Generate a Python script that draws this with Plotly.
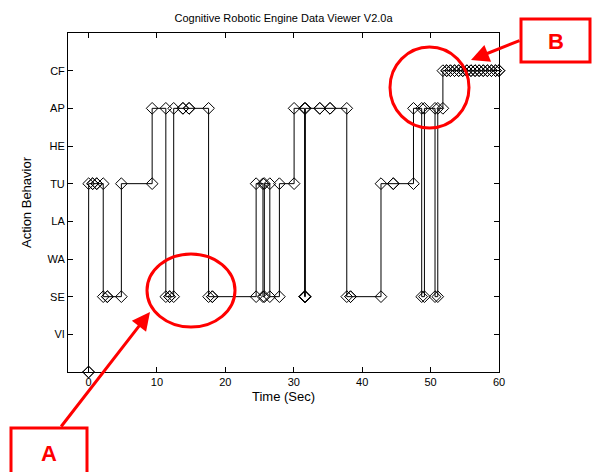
import plotly.graph_objects as go

# Behaviour tick labels (bottom to top, level 1..8)
behaviors = ["VI", "SE", "WA", "LA", "TU", "HE", "AP", "CF"]

# Logged samples: time (s) and behaviour ("" = no behaviour, level 0)
times = [0.0, 0.02, 0.6, 1.2, 2.15, 2.75, 4.8, 9.3, 11.3, 11.85, 12.45, 13.8, 14.7,
         17.55, 18.1, 24.5, 25.5, 25.7, 26.5, 27.9, 30.05, 31.58, 31.64, 31.7,
         33.8, 35.3, 37.75, 38.3, 42.75, 44.55, 47.5, 48.7, 49.1, 50.65, 51.05, 51.8,
         52.35, 52.9, 53.5, 54.1, 54.7, 55.3, 55.9, 56.5, 57.1, 57.7, 58.3, 58.9, 59.5, 60.0]
states = ["", "TU", "TU", "TU", "SE", "SE", "TU", "AP", "SE", "SE", "AP", "AP", "AP",
          "SE", "SE", "TU", "SE", "TU", "SE", "TU", "AP", "SE", "SE", "AP",
          "AP", "AP", "SE", "SE", "TU", "TU", "AP", "SE", "AP", "SE", "AP", "CF",
          "CF", "CF", "CF", "CF", "CF", "CF", "CF", "CF", "CF", "CF", "CF", "CF", "CF", "CF"]

levels = [behaviors.index(s) + 1 if s else 0 for s in states]

# Stair corners (horizontal then vertical), marker at every corner
sx, sy = [], []
for i, (t, lv) in enumerate(zip(times, levels)):
    if i > 0:
        sx.append(t)
        sy.append(levels[i - 1])
    sx.append(t)
    sy.append(lv)

fig = go.Figure()
fig.add_trace(go.Scatter(
    x=sx, y=sy, mode="lines+markers",
    line=dict(color="black", width=1),
    marker=dict(symbol="diamond-open", size=9, color="black", line=dict(width=1)),
    cliponaxis=False, showlegend=False, hoverinfo="skip",
))

W, H = 592, 472
L, R, T, B = 68, 499, 33, 372


def px(x):
    return (x - L) / (R - L)


def py(y):
    return (B - y) / (B - T)


red = "#ff0000"
shapes = [
    dict(type="circle", xref="paper", yref="paper",
         x0=px(147), x1=px(235), y0=py(327), y1=py(254),
         line=dict(color=red, width=3)),
    dict(type="circle", xref="paper", yref="paper",
         x0=px(390), x1=px(469), y0=py(128), y1=py(47),
         line=dict(color=red, width=3)),
    dict(type="rect", xref="paper", yref="paper",
         x0=px(11), x1=px(87), y0=py(490), y1=py(428),
         line=dict(color=red, width=3)),
    dict(type="rect", xref="paper", yref="paper",
         x0=px(521), x1=px(590), y0=py(62), y1=py(19),
         line=dict(color=red, width=3)),
]

annotations = [
    dict(xref="paper", yref="paper", x=px(49), y=py(453), text="<b>A</b>",
         xanchor="center", yanchor="middle",
         showarrow=False, font=dict(family="Liberation Sans", size=22, color=red)),
    dict(xref="paper", yref="paper", x=px(556), y=py(41), text="<b>B</b>",
         xanchor="center", yanchor="middle",
         showarrow=False, font=dict(family="Liberation Sans", size=22, color=red)),
    dict(xref="paper", yref="paper", x=px(150), y=py(312), ax=60 - 150, ay=428 - 312,
         text="", showarrow=True,
         arrowhead=2, arrowsize=1.2, arrowwidth=3, arrowcolor=red),
    dict(xref="paper", yref="paper", x=px(471), y=py(60), ax=521 - 471, ay=40 - 60,
         text="", showarrow=True,
         arrowhead=2, arrowsize=1.2, arrowwidth=3, arrowcolor=red),
]

fig.update_layout(
    width=W, height=H,
    margin=dict(l=L, r=W - R, t=T, b=H - B),
    paper_bgcolor="white", plot_bgcolor="white",
    font=dict(family="Liberation Sans, Arial, sans-serif", size=11, color="black"),
    title=dict(text="Cognitive Robotic Engine Data Viewer V2.0a", x=(L + R) / 2 / W,
               xanchor="center", y=1 - 18 / H, yanchor="middle",
               font=dict(size=11, color="black")),
    xaxis=dict(range=[-3, 60], tickvals=[0, 10, 20, 30, 40, 50, 60],
               ticks="inside", ticklen=5, tickcolor="black",
               showline=True, linecolor="black", linewidth=1, mirror="ticks",
               showgrid=False, zeroline=False,
               title=dict(text="Time (Sec)", standoff=4)),
    yaxis=dict(range=[0, 9], tickvals=list(range(1, 9)), ticktext=behaviors,
               ticks="inside", ticklen=5, tickcolor="black",
               showline=True, linecolor="black", linewidth=1, mirror="ticks",
               showgrid=False, zeroline=False,
               title=dict(text="Action Behavior", standoff=12)),
    shapes=shapes, annotations=annotations,
)

fig.write_html("out.html", post_script="document.body.style.margin='0';",
               config={"displayModeBar": False})
